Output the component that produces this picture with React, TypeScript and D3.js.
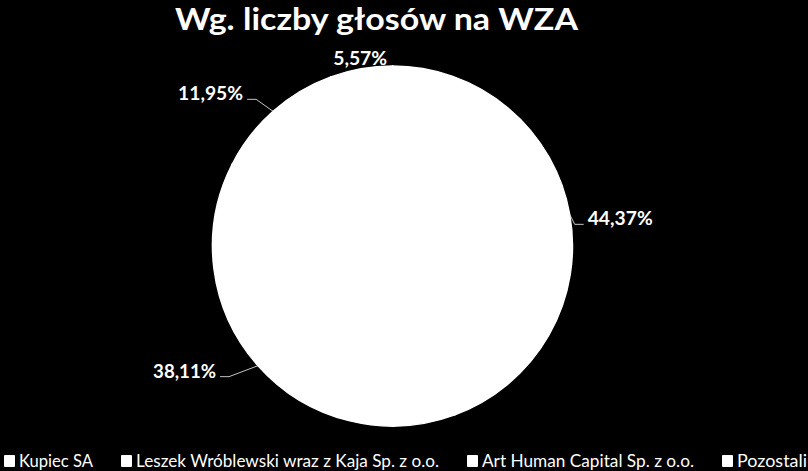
import * as d3 from "d3";
import { useEffect, useRef } from "react";

// chart data
const categories = ["Kupiec SA", "Leszek Wróblewski wraz z Kaja Sp. z o.o.", "Art Human Capital Sp. z o.o.", "Pozostali"];
const values = [44.37, 38.11, 11.95, 5.57];
const valueLabels = ["44,37%", "38,11%", "11,95%", "5,57%"];
const title = "Wg. liczby głosów na WZA";

// layout (label nudges from the slice edge, Excel "best fit" look)
const labelNudge: [number, number][] = [[18, 11], [-42, 12], [-30, -11], [-1, -4]];
const labelWidths = [65, 63, 65, 54];
const legendWidths = [74, 303, 212, 70];

export default function App() {
    const svgRef = useRef<SVGSVGElement | null>(null);

    useEffect(() => {
        if (!svgRef.current) return;
        const svgElement = d3.select(svgRef.current);
        svgElement.selectAll("*").remove();

        const width = 808;
        const height = 471;
        const cx = 392.5;
        const cy = 246;
        const radius = 180;

        const svg = svgElement.attr("width", width).attr("height", height);

        svg.append("rect")
            .attr("width", width)
            .attr("height", height)
            .attr("fill", "#000");

        // title
        svg.append("text")
            .attr("x", 376.5)
            .attr("y", 30)
            .attr("text-anchor", "middle")
            .attr("fill", "#fff")
            .attr("font-family", "Lato")
            .attr("font-weight", "bold")
            .attr("font-size", 31)
            .attr("textLength", 403)
            .attr("lengthAdjust", "spacingAndGlyphs")
            .text(title);

        const pie = d3.pie<number>().sort(null).value((d) => d);
        const arcs = pie(values);
        const arc = d3.arc<d3.PieArcDatum<number>>().innerRadius(0).outerRadius(radius);

        const g = svg.append("g").attr("transform", `translate(${cx},${cy})`);

        // white slices on white borders: fill under them so no seams show
        g.append("circle").attr("r", radius).attr("fill", "#fff");

        g.selectAll("path.slice")
            .data(arcs)
            .enter()
            .append("path")
            .attr("class", "slice")
            .attr("d", arc)
            .attr("fill", "#fff")
            .attr("stroke", "#fff")
            .attr("stroke-width", 1.5);

        // data labels with leader lines
        arcs.forEach((a, i) => {
            const mid = (a.startAngle + a.endAngle) / 2;
            const ex = radius * Math.sin(mid);
            const ey = -radius * Math.cos(mid);
            const [nx, ny] = labelNudge[i];
            const tx = ex + nx;
            const ty = ey + ny;
            const right = Math.sin(mid) > 0;
            const hasLeader = Math.abs(nx) > 5;
            let anchor = right ? "start" : "end";
            if (!hasLeader) anchor = "middle";

            if (hasLeader) {
                const dir = right ? -1 : 1;
                const ly = ty - 1;
                g.append("path")
                    .attr("d", d3.line()([[ex, ey], [tx + dir * 13, ly], [tx + dir * 4, ly]]))
                    .attr("fill", "none")
                    .attr("stroke", "#d9d9d9")
                    .attr("stroke-width", 0.9);
            }

            g.append("text")
                .attr("x", tx)
                .attr("y", ty)
                .attr("text-anchor", anchor)
                .attr("fill", "#fff")
                .attr("font-family", "Lato")
                .attr("font-weight", "bold")
                .attr("font-size", 19)
                .attr("textLength", labelWidths[i])
                .attr("lengthAdjust", "spacingAndGlyphs")
                .text(valueLabels[i]);
        });

        // legend
        let x = 4;
        categories.forEach((c, i) => {
            svg.append("rect")
                .attr("x", x)
                .attr("y", 455)
                .attr("width", 11)
                .attr("height", 12)
                .attr("rx", 1)
                .attr("fill", "#fff");
            svg.append("text")
                .attr("x", x + 15)
                .attr("y", 467)
                .attr("fill", "#fff")
                .attr("font-family", "Lato")
                .attr("font-size", 17)
                .attr("textLength", legendWidths[i])
                .attr("lengthAdjust", "spacingAndGlyphs")
                .text(c);
            x += 15 + legendWidths[i] + 28;
        });
    }, []);

    return (
        <svg ref={svgRef} style={{ position: "absolute", left: 0, top: 0, display: "block" }} />
    );
}
